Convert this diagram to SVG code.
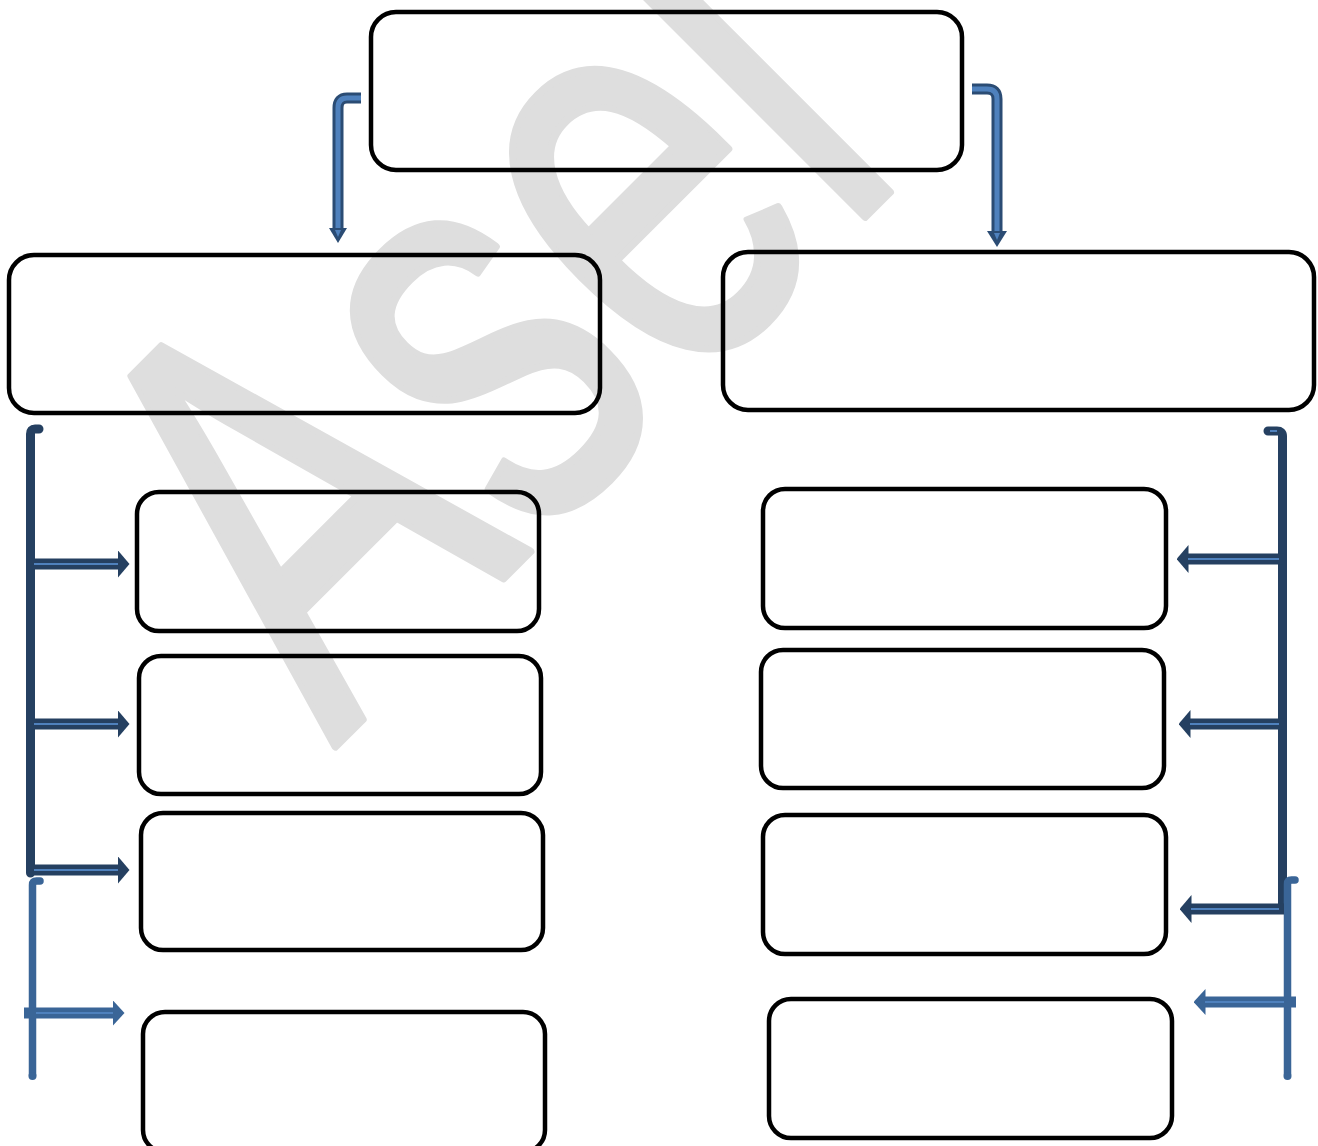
<svg xmlns="http://www.w3.org/2000/svg" width="1318" height="1146" viewBox="0 0 1318 1146">
<style>
.bg{fill:#ffffff}
.wm{font-family:"Liberation Sans",Arial,sans-serif;font-size:590px;fill:#dedede;stroke:#dedede;stroke-width:8;stroke-linejoin:round}
.box{fill:none;stroke:#000000;stroke-width:4.5}
.dk{fill:none;stroke:#254061;stroke-width:9;stroke-linecap:round}
.lt{fill:none;stroke:#3a6597;stroke-width:7.5;stroke-linecap:round}
.shd{fill:none;stroke:#254061;stroke-width:11}
.shl{fill:none;stroke:#3a6597;stroke-width:11}
.hi{fill:none;stroke:#4f81bd;stroke-width:2}
.bo{fill:none;stroke:#2b4c74;stroke-width:11}
.bi{fill:none;stroke:#4f81bd;stroke-width:5}
</style>
<defs>
<marker id="hd" markerUnits="userSpaceOnUse" viewBox="0 0 12 28" refX="0.5" refY="14" markerWidth="12" markerHeight="28" orient="auto">
<path d="M0,0 L12,14 L0,28 Z" fill="#254061"/>
</marker>
<marker id="hl" markerUnits="userSpaceOnUse" viewBox="0 0 12 26" refX="0.5" refY="13" markerWidth="12" markerHeight="26" orient="auto">
<path d="M0,0 L12,13 L0,26 Z" fill="#3a6597"/>
</marker>
</defs>
<rect class="bg" x="0" y="0" width="1318" height="1146"/>
<g id="watermark">
<text class="wm" transform="rotate(-45) scale(0.71 1)" x="-412" y="765">Asel</text>
</g>
<g id="node-top"><rect class="box" x="371" y="12" width="591" height="158" rx="25"/></g>
<g id="node-left"><rect class="box" x="9" y="255" width="591" height="158" rx="25"/></g>
<g id="node-right"><rect class="box" x="723" y="252" width="591" height="158" rx="25"/></g>
<g id="node-l1"><rect class="box" x="137" y="492" width="402" height="139" rx="22"/></g>
<g id="node-l2"><rect class="box" x="139" y="656" width="402" height="138" rx="22"/></g>
<g id="node-l3"><rect class="box" x="141" y="813" width="402" height="137" rx="22"/></g>
<g id="node-l4"><rect class="box" x="143" y="1012" width="402" height="140" rx="22"/></g>
<g id="node-r1"><rect class="box" x="763" y="489" width="403" height="139" rx="22"/></g>
<g id="node-r2"><rect class="box" x="761" y="650" width="403" height="138" rx="22"/></g>
<g id="node-r3"><rect class="box" x="763" y="815" width="403" height="139" rx="22"/></g>
<g id="node-r4"><rect class="box" x="769" y="999" width="403" height="139" rx="22"/></g>
<g id="connectors">
<!-- top bent arrows -->
<path class="bo" d="M361,98 L347,98 Q338,98 338,108 L338,230"/>
<path class="bi" d="M361,98 L347,98 Q338,98 338,108 L338,230"/>
<polygon points="329,228 347,228 338,243" fill="#2b4c74"/>
<polygon points="335,230 341,230 338,237" fill="#4f81bd"/>
<path class="bo" d="M972,89 L987,89 Q997,89 997,99 L997,232"/>
<path class="bi" d="M972,89 L987,89 Q997,89 997,99 L997,232"/>
<polygon points="987,231 1007,231 997,247" fill="#2b4c74"/>
<polygon points="994,233 1000,233 997,240" fill="#4f81bd"/>
<!-- left brackets -->
<path class="dk" d="M39,429 L35,429 Q30.5,429 30.5,434 L30.5,873"/>
<path class="lt" d="M40,881 L36.5,881 Q32.5,881 32.5,885 L32.5,1075"/>
<circle cx="32.5" cy="1076" r="4" fill="#3a6597"/>
<!-- left arrows -->
<path class="shd" d="M31,564 L118,564" marker-end="url(#hd)"/>
<path class="hi" d="M34,564 L118,564"/>
<path class="shd" d="M31,724 L118,724" marker-end="url(#hd)"/>
<path class="hi" d="M34,724 L118,724"/>
<path class="shd" d="M31,870 L118,870" marker-end="url(#hd)"/>
<path class="hi" d="M34,870 L118,870"/>
<path class="shl" d="M24,1013 L113,1013" marker-end="url(#hl)"/>
<path class="hi" d="M36,1013 L113,1013"/>
<!-- right brackets -->
<path class="dk" d="M1268,431 L1277,431 Q1282.5,431 1282.5,436 L1282.5,904"/>
<path class="hi" d="M1270,431 L1277,431"/>
<path class="lt" d="M1295,880 L1291.5,880 Q1287.5,880 1287.5,884 L1287.5,1074"/>
<circle cx="1287.5" cy="1076" r="4" fill="#3a6597"/>
<!-- right arrows -->
<path class="shd" d="M1284,559 L1188,559" marker-end="url(#hd)"/>
<path class="hi" d="M1279,559 L1188,559"/>
<path class="shd" d="M1284,724 L1190,724" marker-end="url(#hd)"/>
<path class="hi" d="M1279,724 L1190,724"/>
<path class="shd" d="M1284,909 L1191,909" marker-end="url(#hd)"/>
<path class="hi" d="M1279,909 L1191,909"/>
<path class="shl" d="M1296,1002 L1205,1002" marker-end="url(#hl)"/>
<path class="hi" d="M1284,1002 L1205,1002"/>
</g>
</svg>
